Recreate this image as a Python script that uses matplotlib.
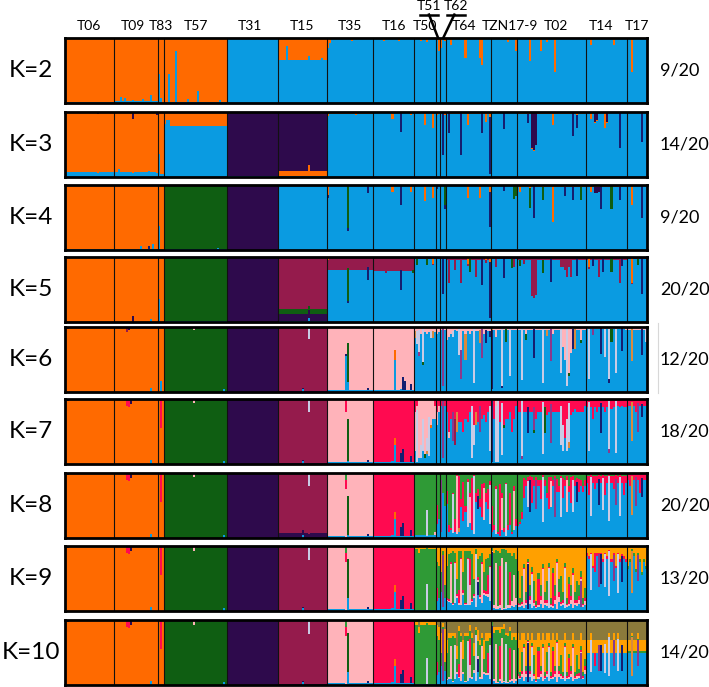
import re
import numpy as np
import matplotlib
matplotlib.use("Agg")
import matplotlib.pyplot as plt
from matplotlib.lines import Line2D
import matplotlib.transforms as mtrans

plt.rcParams['font.family'] = ['Lato', 'DejaVu Sans']

# ---------------- data ----------------
pops = ["T06", "T09", "T83", "T57", "T31", "T15", "T35", "T16", "T50", "T51",
        "T62", "T64", "TZN17-9", "T02", "T14", "T17"]
n_ind = [24, 22, 3, 31, 25, 24, 23, 20, 11, 2, 3, 22, 13, 34, 20, 10]
k_values = [2, 3, 4, 5, 6, 7, 8, 9, 10]
right_labels = ["9/20", "14/20", "9/20", "20/20", "12/20", "18/20", "20/20", "13/20", "14/20"]

cluster_colors = {
    'o': '#FF6A00', 'b': '#0A9BE1', 'p': '#2E0A4C', 'g': '#0F5E12', 'm': '#951B4C',
    'k': '#FFB3BA', 'r': '#FF0A50', 'G': '#2F9A36', 'y': '#FFA000', 'l': '#8B7A3B',
    'n': '#161E70', 'w': '#C9CBE5', 'v': '#8A3A8C', 't': '#D98A3E',
}

# stacking order (bottom -> top) per K
order_K = {
    2: "bo", 3: "bnop", 4: "bnpgo", 5: "bnpgmo", 6: "bngtopvmwk",
    7: "bngtopvmwkr", 8: "bngtopvmwkrG", 9: "bngtopvmwkrGy", 10: "bngtopvmwkrGyl",
}

# (base composition, per-individual deviations) for each population
K2 = {
    "T06": ("b02o98", ""),
    "T09": ("b03o97", ". . . b1 . b08 . . . b05 . . . . b06 . . . b12 . . ."),
    "T83": ("o1", "b45 b08 ."),
    "T57": ("b02o98", ". . b45 . . b8 . . . . . b06 . . . . b18 . . . . . . . . . . b05 . . ."),
    "T31": ("b99o01", ""),
    "T15": ("b66o34", ". . . . b87 . . . . . . . . . . b72 . . . . . b7 . ."),
    "T35": ("b98o02", "o15 o08 . . . . . . . . . . o05 . . ."),
    "T16": ("b98o02", ". . . . . o05 . . . . . . o04"),
    "T50": ("b98o02", ". . . o05 . . o06 . . . ."),
    "T51": ("b97o03", ". o2"),
    "T62": ("b97o03", "o15 . o05"),
    "T64": ("b98o02", ". . o1 . . . . . . o3 . . . . . . o3 o42 . . . ."),
    "TZN17-9": ("b98o02", ". . . . . . . . o06 . . . o2"),
    "T02": ("b98o02", ". . . . . . o35 . . . . o2 . . o06 . . . o52 . . . . . . . . . . . ."),
    "T14": ("b98o02", ". . o1 . . . . . . . . . . o1 . ."),
    "T17": ("b98o02", ". . o53 ."),
}
K3 = {
    "T06": ("b07o93", ". . . . . . . . . . . . . . . . p03"),
    "T09": ("b07o93", ". . b12 . . . . . . p1 . . . . . . . b1 . . . p05"),
    "T83": ("b04o96", "b35 . ."),
    "T57": ("b78o22", "o18 o12 o12"),
    "T31": ("b01p99", ""),
    "T15": ("b01o09p90", ". . . . . . . . . . . . . . . o18"),
    "T35": ("b97o03", "o06 . . . . . . . . . . . . . o05"),
    "T16": ("b98o02", ". . . . . . . . . o1 . . . n3 . . . . o05"),
    "T50": ("b98o02", ". . . . . o2 . . . o25 ."),
    "T51": ("b97o03", "o05 ."),
    "T62": ("b97o03", ". n65 o05"),
    "T64": ("b97o03", ". n3 . . . . . n65 . . o2 . . . . . . n3 . o15 . n88o08"),
    "TZN17-9": ("b98o02", ". . . . . . n25"),
    "T02": ("b97o03", ". . . . . n15 . p55 p58 p5 . . . . . . . o2 . . . . . . . . . n35 . n2o05"),
    "T14": ("b98o02", ". . o1 . p15 p12 . . . o25 p15 . . . . . n55"),
    "T17": ("b98o02", ". . . . . . . n45"),
}
K4 = {
    "T06": ("b01o99", ""),
    "T09": ("b01o99", ". . . . . . . . . . . . . b06 . . . n05 . b1 . ."),
    "T83": ("o1", "b37 . ."),
    "T57": ("b01g99", ". . . . . . . . . . . . . . . . . . . . . . . . . . b03"),
    "T31": ("p99o01", ""),
    "T15": ("b98o02", ""),
    "T35": ("b98o02", "o15n05 . . . . . . . . . g65n05 . . . . . . . . . n1"),
    "T16": ("b98o02", ". . . . . . . . . o1 . . . n3 . . . . o1"),
    "T50": ("b98o02", ". . . . . o25 . . . o2 ."),
    "T51": ("b98o02", "n05"),
    "T62": ("b98o02", ". . g3n05"),
    "T64": ("b98o02", ". . . . . . . . . . o2 . . . . . o2 . . . . n55o1"),
    "TZN17-9": ("b98o02", ". . . . . . n08 . . . . g2 g15"),
    "T02": ("b97o03", ". o1 . . . . g3o05 . n5 . . . g2 . . . . o57 . . . . . n15 . . . n2 . . . g2"),
    "T14": ("b97o03", ". . o1 . p1 p1 p08 n35 . . . . g35 . . . n2"),
    "T17": ("b98o02", ". . o3 . . . . n5"),
}
K5 = {
    "T06": ("o1", ""),
    "T09": ("o1", ". . . . . . . . . p1 . . . . . . . . b05"),
    "T83": ("o1", "b35 . ."),
    "T57": ("g99b01", ""),
    "T31": ("p99m01", ""),
    "T15": ("b01p12g07m80", ". . . . . . . . . . . . . . . b06p12g07"),
    "T35": ("b80m20", "m15o05 . . . . . . . . . n03g5m17 . . . . . . . . . n2"),
    "T16": ("b78m22", ". . . . . . m25 . . . . . . n3m2 . . . . . g05m2"),
    "T50": ("b97m03", ". g1 . . . . g1 . . o1"),
    "T51": ("b97m03", ""),
    "T62": ("b97m03", ". n55"),
    "T64": ("b96m04", ". m4 . . m2 . . m4 . . o1 g2 . . m3 . . n4 . o05 . n85o08"),
    "TZN17-9": ("b97m03", ". . m15 . . . n3 . . . g15 m15"),
    "T02": ("b95m05", ". g1 . m1 . . . m6 m63 m58 . . g2 . . . n35 . . . . m15 m15 m2 m3 m15 m3 . . n25"),
    "T14": ("b96m04", ". o15 . n1 . . m3 . n2 . . . g2 . . . m4 n1"),
    "T17": ("b97m03", ". . o4 . . g1 . n55"),
}
K6 = {
    "T06": ("o1", ". p03"),
    "T09": ("o1", ". . . . . . m08 p04 . . . . . . . . . . b06 . . ."),
    "T83": ("o1", ". b17 ."),
    "T57": ("g99k01", ". . . . . . . . . . . . . . k05 . . . . . . . . . . . . . . b04"),
    "T31": ("p99m01", ""),
    "T15": ("m98p02", ". . . . . . . . . . . . b05 . . w18"),
    "T35": ("k97b03", ". . . . . . . . . b55n03 g6b15 . . . . . . . . . n03"),
    "T16": ("k97b03", ". . . . . . . . . . b5o14 . . b05 n2 n15 . . n1 ."),
    "T50": ("b93k07", "t1 w2 w35v05 k1 w5g05 . k1 . w1 t1 ."),
    "T51": ("b92k08", "k1 ."),
    "T62": ("b95k05", ". v9 ."),
    "T64": ("b94k06", "k2 k15 k1 w1 k05 . w4 k35v45 . t4k1 . k1 . w85 . . t2 v45 k1 n2 . n1"),
    "TZN17-9": ("b96k04", "n9t05 . k15 . . w9n03 . g2 . w75 . . k05"),
    "T02": ("b95k05", ". . w8 . g1k1 . . . n45 . . . w85 . t1 . v5 k1 . . . w7 k3 k5 w9 k7g05 k4 n3 t3 . . k2g05 . ."),
    "T14": ("b97k03", ". w8 . v1 . . . n4 . w45 . w8n05 g2 . w7 . . n35 . k05"),
    "T17": ("b96k04", ". . t5 . k05 . . n4 . w2"),
}
K7 = {
    "T06": ("o1", ". p03 . . . . . . . . . . . . r02"),
    "T09": ("o1", ". . . . . . r1 r12 p08 . . . . . . . . . b06 . . ."),
    "T83": ("o1", ". r45 ."),
    "T57": ("g99k01", ". . . . . . . . . . . . . . k06 . . . . . . . . . . . . . . b04"),
    "T31": ("p99m01", ""),
    "T15": ("m98p02", ". . . . . . . . . . . . b05 . . w2"),
    "T35": ("k97b03", ". . . . . . . . . r2 g65b05 . . . . . . . . . n03"),
    "T16": ("r97b03", ". . . . . . . . . b05 b3o1 . . n15 n2 . . . n1 ."),
    "T50": ("b3k7", "r2k6 r1w8 k9 k7w2 w5k3 k85g05 k6w2t05 w6 k4o05 k3 r1k2"),
    "T51": ("b8k1r1", "r2k2 ."),
    "T62": ("b9r1", ". v9 r1"),
    "T64": ("b65r35", "r2 r5k1 r3 v45r2 r3m4 t3r2 r35 . r5 r3 . r2 w8r1 r4w3 t2r2 . v4r1 r3 r25 . r2 w7"),
    "TZN17-9": ("b7r3", "n95 r3 w85k1 w95 r35 w8 r4g05 r3 . r2 r5 . r1"),
    "T02": ("b8r2", ". . w85v05 r2 . n4 . . v35g05 r3 . . w8 g4 r25 . v6 r2 . . . w6r1 r4w4 r6 r3w5 t1w6 r25 . r15 . . r2 . r1"),
    "T14": ("b88r12", ". w75r05 . r3 . r2 . n45 . r2 . w75v05 r15 . w8 r1 . r1 . ."),
    "T17": ("b9r1", ". . t6 . r2 v45 . n2 . r1"),
}
K8 = {
    "T06": ("o1", ". p03 . . . . . . . . . . . . r02"),
    "T09": ("o1", ". . . . . . r1 r12 p08 . . . . . . . . . b06 . . ."),
    "T83": ("o1", ". r45 ."),
    "T57": ("g99k01", ". . . . . . . . . . . . . . k06 . . . . . . . . . . . . . . b04"),
    "T31": ("p99m01", ""),
    "T15": ("p08m92", ". . . . . . . . . . . . b05 . . w2"),
    "T35": ("k97b03", ". . . . . . . . . G1r15 g6b05 . . . . . . . . . n03"),
    "T16": ("r97b03", ". . . . . . . . . b05 b3o1 . . n15 n2 . . . n1 ."),
    "T50": ("G95b05", ". . . . . . w4 . . . k05"),
    "T51": ("G7b3", "r3 ."),
    "T62": ("b5G5", "v8 b7 ."),
    "T64": ("b55G3r15", "r2 G8r1 G85 w6G3 G7r2 k9 r8t05 G4 r6 G5 w7 k4G3 r8 w9 . n2 G4 r5 k5 G3 r3 w6"),
    "TZN17-9": ("b15G75r1", "G5r4 G8 w7G2 G9 r8 k5G3 G85 w8 G8 r5G3 G9 k6G2 G7"),
    "T02": ("b8r1G1", "G8 G75 G6r1 r3 . w4 n5 r4 . v45 . r3G1 w7 . G3 r5 k4 . v6 r2 G2 w6 r3 . k5 G2 r4 w5 . n3 r2 . G2 ."),
    "T14": ("b85r1G05", ". r3 w6 . r2 . n4 . w5 r3 . w7 . r2 v4 . w6 . r3 ."),
    "T17": ("b9r1", ". r2 t6 . v45 . r3 n3 . ."),
}
K9 = {
    "T06": ("o1", ". p03 . . . . . . . . . . . . y02"),
    "T09": ("o1", ". . . . . . r1 r12 p08 . . . . . . . . . b06 . . ."),
    "T83": ("o1", ". r45 ."),
    "T57": ("g98y02", ". . . . . . . . . . . . . . k06 . . . . . . . . . . . . . . b04"),
    "T31": ("p98y02", ""),
    "T15": ("p02m96y02", ". . . . . . . . . . . . b05 . . w2"),
    "T35": ("k97b03", ". . . . . . . . . G1r15 g6b2 . . . . . . . . . n03"),
    "T16": ("r97b03", ". . . . . . . . . b05 b3o1 . . n15 n2 . . . n1 ."),
    "T50": ("G93y05b02", ". . y1 . . . w4 . . . ."),
    "T51": ("G5y3b2", "r2 ."),
    "T62": ("b3y4G3", ". v8 y6"),
    "T64": ("b3G35y25r05k05", "y3G5 G7 k6 G8 w6 y5 G6r2 k7 y4 G8 w7 r4k3 G7 y5 w8 n2 G6 k6 y4 G5 r3 w5"),
    "TZN17-9": ("b1G6y2k1", "n9 G8 k7 G85 r6G2 k8 G9 w7 G8 r5 G7 k5 G6"),
    "T02": ("b1G15y65k05r05", "G5 y8 G4 k6 y7 n7 y6 w5 G3 y85 r4 y6 k6 y7 G3 w6 y8 r5 y6 k7 y5 G4 y7 w6 y8 r3 y6 k5 y7 G3 y6 v4 y8 ."),
    "T14": ("b75y2r05", "y1 y15 w55y1 y3 r3y1 y1 v5y1 n45y1 y2 w5y1 y15 w7 y2 v4y1 y3 w6y1 y2 n4 y15 ."),
    "T17": ("b7y25G05", "y3 y2 t65y05 y1 y35 v4y1 y2 y4 y2 y3"),
}
K10 = {
    "T06": ("o1", ". p03 . . . . . . . . . . . . y02"),
    "T09": ("o1", ". . . . . . r1 r12 p08 . . . . . . . . . b06 . . ."),
    "T83": ("o1", ". r45 ."),
    "T57": ("g98y02", ". . . . . . . . . . . . . . k06 . . . . . . . . . . . . . . b04"),
    "T31": ("p98y02", ""),
    "T15": ("p02m96y02", ". . . . . . . . . . . . b05 . . w2"),
    "T35": ("k97b03", ". . . . . . . . . G1r15 g6b2 . . . . . . . . . n03"),
    "T16": ("r97b03", ". . . . . . . . . b05 b3o1 . . n15 n2 . . . n1 ."),
    "T50": ("G9y05l03b02", ". . y1l1 . . . w4 . . . ."),
    "T51": ("G5y2l1b2", "r2 ."),
    "T62": ("b3y3l2G2", ". v8 y5"),
    "T64": ("b25G3y2l2k05", "l3y2G4 G6l2 k5l2 G7l2 w5l2 l4y2 G5r2 k6l2 y3l3 G7l2 w6l2 r4k2 G6l2 l35y2 w7l1 n2 G5l3 k5l2 l3y3 G5l2 r3l2 w5l2"),
    "TZN17-9": ("b1G55y15l15k05", "n9 G7l1 k6l1 G8l1 r5G2 k7l1 G8 w6l2 G7l2 r5l1 G6l2 k5l2 G6l2"),
    "T02": ("b15G1y35l3k05r05", "G4l2 y5l3 G3l2 k5l2 y4l3 n6l2 y4l3 w5l2 G3l3 y6l3 r4l2 y4l3 k5l2 y5l3 G3l2 w5l2 y5l3 r4l2 y4l3 k6l2 y4l3 G3l3 y5l3 w5l2 y5l3 r3l3 y4l3 k5l2 y5l3 G3l3 y45l3 v4l2 y5l3 l3y3"),
    "T14": ("b5y2l3", ". . w5y1l2 . r2y2l3 . v4l3 n4l3 . w45l3 . w6l2 . v4l2 . w5l2 . n4l3 . ."),
    "T17": ("b5y17l3G03", ". . t6l2 . . v4l2 . . . ."),
}
panels = {2: K2, 3: K3, 4: K4, 5: K5, 6: K6, 7: K7, 8: K8, 9: K9, 10: K10}

# small horizontal nudges of the population labels (in individuals)
label_nudge = {"T09": -1.5, "T31": -1.5, "T64": -2.0, "TZN17-9": 3.0, "T02": 2.0, "T14": -2.5}


# ---------------- helpers ----------------
def parse(s):
    return {c: float('0.' + d) for c, d in re.findall(r'([A-Za-z])(\d+)', s)}


def individual(base, tok):
    bd = parse(base)
    tb = sum(bd.values())
    bd = {c: v / tb for c, v in bd.items()}
    if tok == '.' or tok == '':
        return bd
    sd = parse(tok)
    spec = sum(sd.values())
    rest = {c: v for c, v in bd.items() if c not in sd}
    rs = sum(rest.values())
    out = dict(sd)
    if rs > 0 and spec < 1:
        for c, v in rest.items():
            out[c] = v / rs * (1 - spec)
    tot = sum(out.values())
    return {c: v / tot for c, v in out.items()}


def panel_matrix(k):
    order = order_K[k]
    data = panels[k]
    rows = []
    for pop, n in zip(pops, n_ind):
        base, toks = data[pop]
        tl = toks.split()
        for i in range(n):
            t = tl[i] if i < len(tl) else '.'
            comp = individual(base, t)
            rows.append([comp.get(c, 0.0) for c in order])
    return np.array(rows)


# ---------------- figure ----------------
W, H = 709, 687
fig = plt.figure(figsize=(W / 100, H / 100), dpi=100)

left_px, right_px = 65, 647
panel_tops = [38, 112, 185, 257, 327, 399, 473, 546, 620]
panel_h = 65
total = sum(n_ind)
bounds = np.cumsum([0] + n_ind)
centers = (bounds[:-1] + bounds[1:]) / 2

axes = []
for idx, k in enumerate(k_values):
    top = panel_tops[idx]
    ax = fig.add_axes([left_px / W, 1 - (top + panel_h) / H,
                       (right_px - left_px) / W, panel_h / H])
    M = panel_matrix(k)
    x = np.arange(total)
    bottom = np.zeros(total)
    for j, c in enumerate(order_K[k]):
        h = M[:, j]
        if h.sum() > 0:
            ax.bar(x, h, bottom=bottom, width=1.0, align='edge',
                   color=cluster_colors[c], linewidth=0, antialiased=False)
        bottom += h
    for bnd in bounds[1:-1]:
        ax.axvline(bnd, color='#111111', lw=0.8, zorder=5)
    ax.set_xlim(0, total)
    ax.set_ylim(0, 1)
    ax.set_xticks([])
    ax.set_yticks([])
    for sp in ax.spines.values():
        sp.set_linewidth(2.0)
        sp.set_color('black')
        sp.set_zorder(6)
    yc = 1 - (top + panel_h / 2) / H
    fig.text(31 / W, yc, f"K={k}", ha='center', va='center', fontsize=17.5)
    fig.text(660 / W, yc, right_labels[idx], ha='left', va='center', fontsize=13)
    axes.append(ax)

# population labels on top panel
ax0 = axes[0]
tr = mtrans.blended_transform_factory(ax0.transData, ax0.transAxes)
for pop, cx in zip(pops, centers):
    if pop in ("T51", "T62"):
        continue
    ax0.text(cx + label_nudge.get(pop, 0.0), 1.18, pop, transform=tr,
             ha='center', va='center', fontsize=10)

i51 = pops.index("T51")
i62 = pops.index("T62")
c51, c62 = centers[i51], centers[i62]
lab51 = c51 - 4.5
lab62 = c62 + 6.5
ax0.text(lab51, 1.49, "T51", transform=tr, ha='center', va='center', fontsize=10)
ax0.text(lab62, 1.49, "T62", transform=tr, ha='center', va='center', fontsize=10)
for lab in (lab51, lab62):
    ax0.add_line(Line2D([lab - 4.4, lab + 4.4], [1.36, 1.36], transform=tr,
                        color='black', lw=1.8, clip_on=False))
ax0.add_line(Line2D([lab51, c51], [1.36, 1.0], transform=tr, color='black',
                    lw=1.8, clip_on=False))
ax0.add_line(Line2D([lab62 - 1.0, c62], [1.36, 1.0], transform=tr, color='black',
                    lw=1.8, clip_on=False))

# faint vertical line right of K=6 panel
fig.add_artist(Line2D([658 / W, 658 / W], [1 - 323 / H, 1 - 393 / H],
                      color='#d8d8d8', lw=0.8))

fig.savefig("out.png", dpi=100)
